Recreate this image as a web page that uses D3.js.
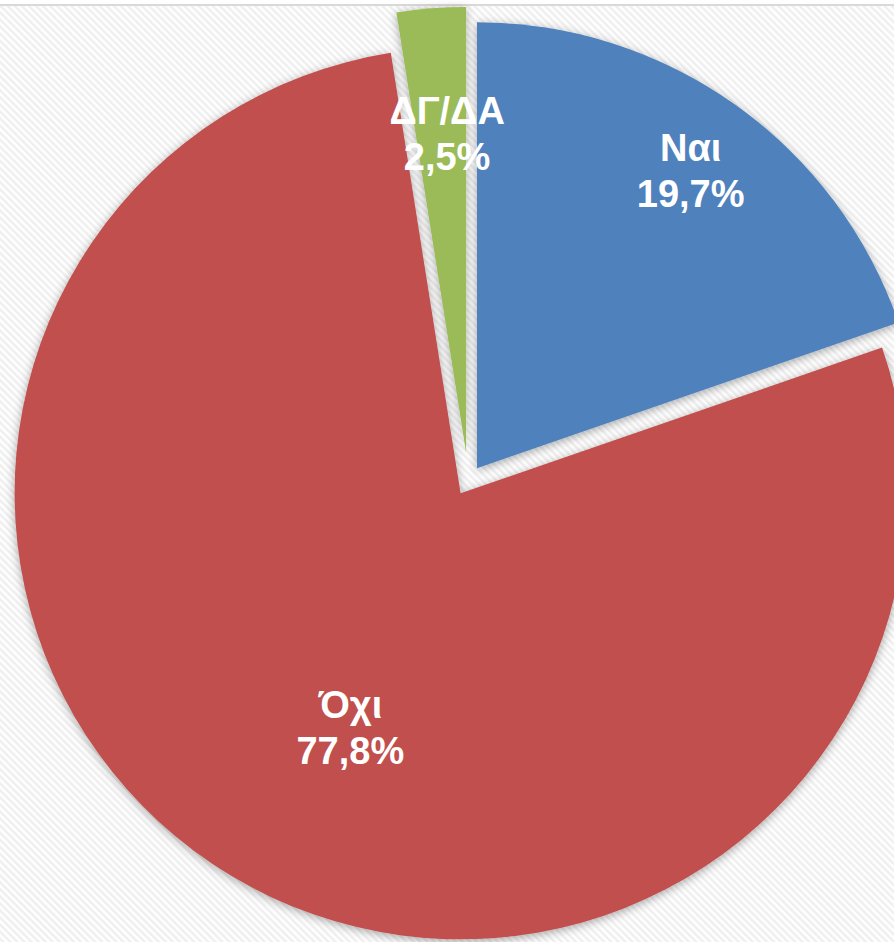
<!DOCTYPE html>
<html>
<head>
<meta charset="utf-8">
<script src="https://cdn.jsdelivr.net/npm/d3@7"></script>
<style>
  html, body { margin: 0; padding: 0; background: #ffffff; }
  svg { display: block; }
</style>
</head>
<body>
<div id="chart"></div>
<script>
// ---- data ----
const categories = ["Ναι", "Όχι", "ΔΓ/ΔΑ"];
const values = [19.7, 77.8, 2.5];
const valueLabels = ["19,7%", "77,8%", "2,5%"];

// ---- layout / style ----
const W = 894, H = 942;
const colors = ["#4F81BD", "#C0504D", "#9BBB59"];
const explode = [15, 15, 27.5];          // px each slice is pulled out
const labelPlace = [                      // label position relative to slice apex
  { angleDeg: 35.6, r: 367 },
  { angleDeg: 205.3, r: 258 },
  { angleDeg: 356.6, r: 321 }
];
const cx = 468.3, cy = 480.5, R = 446;
const fontSize = 38, lineGap = 46;

const svg = d3.select("#chart").append("svg")
  .attr("width", W).attr("height", H);

const defs = svg.append("defs");
const pat = defs.append("pattern")
  .attr("id", "stripes")
  .attr("patternUnits", "userSpaceOnUse")
  .attr("width", 5).attr("height", 5)
  .attr("patternTransform", "rotate(-45)");
pat.append("rect").attr("width", 5).attr("height", 5).attr("fill", "#ffffff");
pat.append("rect").attr("width", 2.5).attr("height", 5).attr("fill", "#efefef");

const f = defs.append("filter").attr("id", "shadow")
  .attr("x", "-20%").attr("y", "-20%").attr("width", "140%").attr("height", "140%");
f.append("feDropShadow")
  .attr("dx", 0).attr("dy", 2).attr("stdDeviation", 5)
  .attr("flood-color", "#000").attr("flood-opacity", 0.35);

// background
svg.append("rect").attr("x", 0).attr("y", 6).attr("width", W).attr("height", H - 6)
  .attr("fill", "url(#stripes)");
svg.append("line").attr("x1", 0).attr("x2", W).attr("y1", 5).attr("y2", 5)
  .attr("stroke", "#d9d9d9").attr("stroke-width", 2);

const pie = d3.pie().sort(null).value(d => d).startAngle(0).endAngle(2 * Math.PI);
const arcs = pie(values);
const arcGen = d3.arc().innerRadius(0).outerRadius(R);

const g = svg.append("g").attr("transform", `translate(${cx},${cy})`);

const slices = g.selectAll("g.slice").data(arcs).enter().append("g")
  .attr("class", "slice")
  .attr("transform", (d, i) => {
    const mid = (d.startAngle + d.endAngle) / 2;
    return `translate(${explode[i] * Math.sin(mid)},${-explode[i] * Math.cos(mid)})`;
  });

slices.append("path")
  .attr("d", arcGen)
  .attr("fill", (d, i) => colors[i])
  .attr("filter", "url(#shadow)");

slices.each(function (d, i) {
  const a = labelPlace[i].angleDeg * Math.PI / 180;
  const x = labelPlace[i].r * Math.sin(a);
  const y = -labelPlace[i].r * Math.cos(a);
  const t = d3.select(this).append("text")
    .attr("text-anchor", "middle")
    .attr("font-family", "'Liberation Sans', Arial, sans-serif")
    .attr("font-weight", "bold")
    .attr("font-size", fontSize)
    .attr("fill", "#ffffff");
  const b1 = y - 9;
  t.append("tspan").attr("x", x).attr("y", b1).text(categories[i]);
  t.append("tspan").attr("x", x).attr("y", b1 + lineGap).text(valueLabels[i]);
});
</script>
</body>
</html>
